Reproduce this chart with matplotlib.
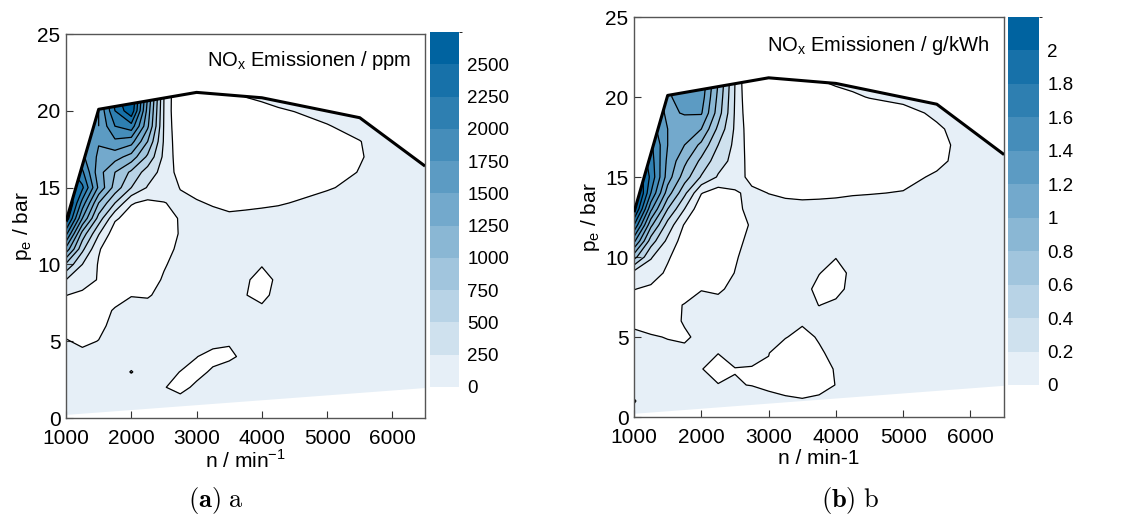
import numpy as np
import matplotlib
matplotlib.use("Agg")
import matplotlib.pyplot as plt
from matplotlib.colors import ListedColormap, BoundaryNorm, to_rgb
from matplotlib.cm import ScalarMappable
from matplotlib.patches import Polygon

plt.rcParams['font.family'] = ['Liberation Sans', 'DejaVu Sans']

# grid of the map: engine speed (min-1) and mean effective pressure (bar)
speed = [1000, 1250, 1500, 1750, 2000, 2250, 2500, 2750, 3000, 3250,
         3500, 3750, 4000, 4250, 4500, 5000, 5500, 6000, 6500]
pe = list(range(0, 23))

# full load curve and lower limit of the map
fl_speed = [1000, 1500, 3000, 4000, 5500, 6500]
fl_pe = [12.8, 20.1, 21.2, 20.85, 19.55, 16.4]
low_speed = [1000, 6500]
low_pe = [0.2, 1.95]

# NOx in ppm, one row per pe value
nox_ppm = [
    [100, 100, 100, 100, 100, 100, 100, 100, 100, 100, 100, 100, 100, 100, 100, 100, 100, 100, 100],
    [100, 100, 100, 100, 100, 100, 100, 80, 100, 100, 100, 100, 100, 100, 100, 100, 100, 100, 100],
    [100, 100, 100, 100, 100, 100, 10, -60, 40, 100, 100, 100, 100, 100, 100, 100, 100, 100, 100],
    [100, 100, 100, 100, -10, 100, 80, -5, -60, 30, 100, 100, 100, 100, 100, 100, 100, 100, 100],
    [100, 60, 100, 100, 100, 100, 100, 100, 5, -60, -40, 50, 100, 100, 100, 100, 100, 100, 100],
    [15, -40, 5, 80, 100, 100, 100, 100, 100, 60, 20, 100, 100, 100, 100, 100, 100, 100, 100],
    [-80, -120, -50, 60, 100, 100, 100, 100, 100, 100, 100, 100, 100, 100, 100, 100, 100, 100, 100],
    [-100, -150, -80, 20, 90, 80, 100, 100, 100, 100, 100, 80, 40, 100, 100, 100, 100, 100, 100],
    [5, -60, -100, -80, -10, -20, 60, 100, 100, 100, 100, 5, -50, 60, 100, 100, 100, 100, 100],
    [250, 130, -20, -120, -150, -100, 25, 100, 100, 100, 100, 30, -80, 40, 100, 100, 100, 100, 100],
    [700, 250, -20, -150, -150, -150, -20, 80, 100, 100, 100, 90, 15, 90, 100, 100, 100, 100, 100],
    [1420, 560, 20, -150, -150, -150, -80, 50, 100, 100, 100, 100, 100, 100, 100, 100, 100, 100, 100],
    [2080, 900, 270, -150, -150, -150, -100, 15, 100, 100, 100, 100, 100, 100, 100, 100, 100, 100, 100],
    [2700, 1500, 650, 40, -120, -150, -100, 20, 100, 100, 60, 70, 80, 90, 100, 100, 100, 100, 100],
    [2950, 1900, 1000, 500, 20, -60, -10, 60, 30, -30, -80, -60, -40, -20, 10, 80, 100, 100, 100],
    [2600, 2300, 1450, 900, 500, 230, 150, -10, -100, -150, -150, -150, -150, -120, -80, -20, 60, 100, 100],
    [2400, 2050, 1350, 1000, 700, 380, 160, -100, -150, -150, -150, -150, -150, -150, -150, -100, 10, 100, 100],
    [2200, 1800, 1450, 1350, 1150, 700, 190, -150, -150, -150, -150, -150, -150, -150, -150, -120, -15, 100, 100],
    [2000, 1650, 1520, 1700, 1600, 1000, 220, -200, -200, -200, -200, -200, -150, -150, -150, -100, -5, 100, 100],
    [1800, 1550, 1500, 2000, 2150, 1300, 230, -250, -200, -200, -200, -150, -100, -100, -80, -10, 60, 100, 100],
    [1700, 1550, 1500, 2250, 2700, 1400, 240, -300, -200, -200, -150, -80, -70, -20, 5, 60, 80, 100, 100],
    [1700, 1550, 1550, 2400, 2800, 1500, 250, -300, -200, -150, -60, 10, 50, 70, 80, 100, 100, 100, 100],
    [1700, 1550, 1550, 2400, 2800, 1500, 250, -300, -250, -150, -50, 30, 80, 100, 100, 100, 100, 100, 100],
]

# NOx in g/kWh
nox_gkwh = [
    [0.05, 0.1, 0.1, 0.1, 0.1, 0.1, 0.1, 0.1, 0.1, 0.1, 0.1, 0.1, 0.1, 0.1, 0.1, 0.1, 0.1, 0.1, 0.1],
    [-0.01, 0.08, 0.1, 0.1, 0.1, 0.1, 0.1, 0.1, 0.08, 0.05, 0.02, 0.05, 0.08, 0.1, 0.1, 0.1, 0.1, 0.1, 0.1],
    [0.06, 0.1, 0.1, 0.1, 0.04, 0.01, 0.01, -0.005, -0.05, -0.1, -0.1, -0.08, 0.005, 0.1, 0.1, 0.1, 0.1, 0.1, 0.1],
    [0.1, 0.1, 0.1, 0.1, 0.01, -0.1, -0.005, -0.01, -0.02, -0.15, -0.15, -0.1, 0.02, 0.1, 0.1, 0.1, 0.1, 0.1, 0.1],
    [0.1, 0.1, 0.06, 0.05, 0.03, 0.005, 0.06, 0.05, 0.005, -0.1, -0.12, -0.03, 0.06, 0.1, 0.1, 0.1, 0.1, 0.1, 0.1],
    [0.06, 0.02, -0.01, -0.03, 0.05, 0.1, 0.1, 0.1, 0.08, 0.01, -0.06, 0.02, 0.1, 0.1, 0.1, 0.1, 0.1, 0.1, 0.1],
    [-0.06, -0.1, -0.08, 0.02, 0.1, 0.1, 0.1, 0.1, 0.1, 0.1, 0.03, 0.08, 0.1, 0.1, 0.1, 0.1, 0.1, 0.1, 0.1],
    [-0.08, -0.1, -0.06, 0.01, 0.08, 0.06, 0.1, 0.1, 0.1, 0.1, 0.1, -0.005, 0.05, 0.1, 0.1, 0.1, 0.1, 0.1, 0.1],
    [0.005, -0.03, -0.1, -0.1, -0.01, -0.03, 0.05, 0.1, 0.1, 0.1, 0.1, -0.08, -0.08, 0.08, 0.1, 0.1, 0.1, 0.1, 0.1],
    [0.12, 0.08, -0.03, -0.12, -0.15, -0.1, 0.005, 0.1, 0.1, 0.1, 0.1, 0.01, -0.1, 0.06, 0.1, 0.1, 0.1, 0.1, 0.1],
    [0.68, 0.22, 0.02, -0.1, -0.15, -0.12, -0.02, 0.08, 0.1, 0.1, 0.1, 0.1, 0.01, 0.1, 0.1, 0.1, 0.1, 0.1, 0.1],
    [1.25, 0.5, 0.15, -0.1, -0.15, -0.15, -0.05, 0.05, 0.1, 0.1, 0.1, 0.1, 0.1, 0.1, 0.1, 0.1, 0.1, 0.1, 0.1],
    [1.8, 0.85, 0.32, -0.02, -0.15, -0.15, -0.08, 0.02, 0.1, 0.1, 0.1, 0.1, 0.1, 0.1, 0.1, 0.1, 0.1, 0.1, 0.1],
    [2.3, 1.25, 0.6, 0.2, -0.15, -0.15, -0.05, 0.06, 0.1, 0.1, 0.08, 0.08, 0.09, 0.1, 0.1, 0.1, 0.1, 0.1, 0.1],
    [2.5, 1.6, 0.9, 0.45, 0.01, -0.1, -0.03, 0.06, -0.005, -0.05, -0.06, -0.05, -0.04, -0.02, -0.01, 0.01, 0.1, 0.1, 0.1],
    [2.3, 1.75, 1.1, 0.7, 0.38, 0.18, 0.12, -0.08, -0.15, -0.15, -0.15, -0.15, -0.15, -0.15, -0.15, -0.06, 0.03, 0.1, 0.1],
    [2.1, 1.7, 1.15, 0.85, 0.55, 0.28, 0.14, -0.1, -0.2, -0.2, -0.2, -0.2, -0.2, -0.2, -0.2, -0.15, -0.05, 0.1, 0.1],
    [1.9, 1.65, 1.2, 1.0, 0.75, 0.4, 0.15, -0.12, -0.2, -0.2, -0.2, -0.2, -0.2, -0.2, -0.2, -0.15, -0.07, 0.1, 0.1],
    [1.7, 1.5, 1.2, 1.05, 1.0, 0.55, 0.17, -0.15, -0.2, -0.2, -0.2, -0.2, -0.2, -0.2, -0.2, -0.15, -0.03, 0.1, 0.1],
    [1.6, 1.4, 1.15, 1.22, 1.22, 0.7, 0.18, -0.2, -0.25, -0.25, -0.2, -0.2, -0.12, -0.12, -0.12, -0.07, 0.04, 0.1, 0.1],
    [1.5, 1.35, 1.15, 1.35, 1.3, 0.75, 0.19, -0.25, -0.3, -0.25, -0.15, -0.08, -0.08, -0.03, 0.01, 0.06, 0.1, 0.1, 0.1],
    [1.5, 1.35, 1.15, 1.4, 1.35, 0.8, 0.2, -0.3, -0.3, -0.2, -0.1, -0.01, 0.04, 0.06, 0.08, 0.1, 0.1, 0.1, 0.1],
    [1.5, 1.35, 1.15, 1.4, 1.35, 0.8, 0.2, -0.3, -0.3, -0.2, -0.1, 0.02, 0.08, 0.1, 0.1, 0.1, 0.1, 0.1, 0.1],
]

levels_ppm = [0, 250, 500, 750, 1000, 1250, 1500, 1750, 2000, 2250, 2500, 2750]
levels_gkwh = [0, 0.2, 0.4, 0.6, 0.8, 1.0, 1.2, 1.4, 1.6, 1.8, 2.0, 2.2]
labels_ppm = ['0', '250', '500', '750', '1000', '1250', '1500', '1750', '2000', '2250', '2500']
labels_gkwh = ['0', '0.2', '0.4', '0.6', '0.8', '1', '1.2', '1.4', '1.6', '1.8', '2']

light = np.array(to_rgb('#e6eff7'))
dark = np.array(to_rgb('#0063a0'))
band_colors = [tuple(light + (dark - light) * i / 10) for i in range(11)]


def draw_map(ax, cax, z, levels, cb_labels, title, xlabel):
    cmap = ListedColormap(band_colors)
    cmap.set_over(band_colors[-1])
    norm = BoundaryNorm(levels, cmap.N)
    z = np.array(z)

    border = Polygon(list(zip(low_speed, low_pe)) + list(zip(fl_speed[::-1], fl_pe[::-1])),
                     closed=True, transform=ax.transData, facecolor='none', edgecolor='none')
    cf = ax.contourf(speed, pe, z, levels=levels, cmap=cmap, norm=norm, extend='max')
    cf.set_clip_path(border)
    cl = ax.contour(speed, pe, z, levels=levels[:-1], colors='k', linewidths=0.9)
    cl.set_clip_path(border)
    ax.plot(fl_speed, fl_pe, color='k', lw=2.2, solid_capstyle='butt', zorder=5)

    ax.set_xlim(1000, 6500)
    ax.set_ylim(0, 25)
    ax.set_xticks([1000, 2000, 3000, 4000, 5000, 6000])
    ax.set_yticks([0, 5, 10, 15, 20, 25])
    ax.tick_params(direction='in', length=5, labelsize=15, color='#333333')
    ax.tick_params(axis='x', pad=8)
    ax.tick_params(axis='y', pad=4)
    for s in ax.spines.values():
        s.set_color('#555555')
        s.set_linewidth(1.0)
    ax.set_xlabel(xlabel, fontsize=15, labelpad=1)
    ax.set_ylabel(r'p$_\mathregular{e}$ / bar', fontsize=15, labelpad=2)
    ax.text(0.96, 0.93, title, transform=ax.transAxes, ha='right', va='center', fontsize=14.5)

    sm = ScalarMappable(norm=norm, cmap=cmap)
    cb = plt.colorbar(sm, cax=cax, ticks=levels[:-1])
    cb.outline.set_visible(False)
    cb.ax.set_yticklabels(cb_labels)
    cb.ax.tick_params(length=0, labelsize=13.5, pad=6)


fig = plt.figure(figsize=(11.23, 5.25), dpi=100)
ax1 = fig.add_axes([0.0588, 0.2038, 0.3197, 0.7314])
cax1 = fig.add_axes([0.3829, 0.2629, 0.0258, 0.6762])
ax2 = fig.add_axes([0.5646, 0.2057, 0.3295, 0.7619])
cax2 = fig.add_axes([0.8976, 0.2667, 0.0276, 0.7010])

draw_map(ax1, cax1, nox_ppm, levels_ppm, labels_ppm,
         r'NO$_\mathregular{x}$ Emissionen / ppm', r'n / min$^\mathregular{-1}$')
draw_map(ax2, cax2, nox_gkwh, levels_gkwh, labels_gkwh,
         r'NO$_\mathregular{x}$ Emissionen / g/kWh', 'n / min-1')

fig.text(0.192, 0.047, r'$\mathbf{(a)}$ $\mathrm{a}$', ha='center', va='center',
         fontsize=19, math_fontfamily='cm')
fig.text(0.757, 0.047, r'$\mathbf{(b)}$ $\mathrm{b}$', ha='center', va='center',
         fontsize=19, math_fontfamily='cm')

fig.savefig('out.png', dpi=100)
